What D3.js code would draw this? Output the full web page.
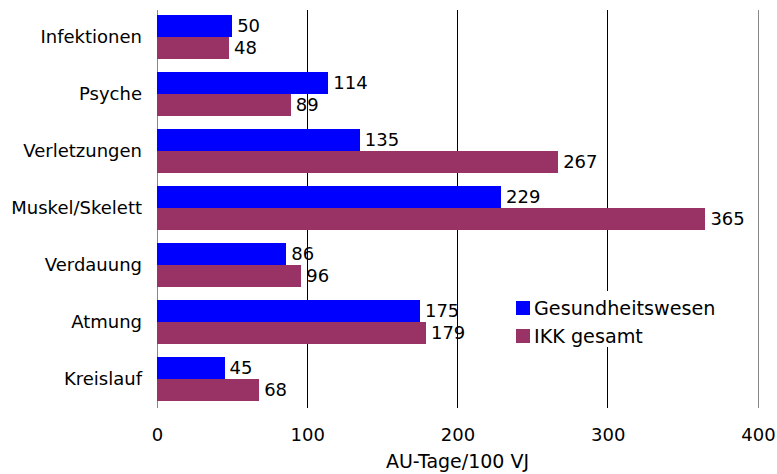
<!DOCTYPE html>
<html>
<head>
<meta charset="utf-8">
<script src="https://cdn.jsdelivr.net/npm/d3@7"></script>
<style>
  html, body { margin: 0; padding: 0; background: #fff; }
  svg text { font-family: "DejaVu Sans", sans-serif; fill: #000; }
</style>
</head>
<body>
<svg id="chart" width="777" height="474"></svg>
<script>
// Krankheitsarten: AU-Tage je 100 Versicherungsjahre
const categories = ["Infektionen", "Psyche", "Verletzungen", "Muskel/Skelett", "Verdauung", "Atmung", "Kreislauf"];
const gesundheitswesen = [50, 114, 135, 229, 86, 175, 45];
const ikkGesamt = [48, 89, 267, 365, 96, 179, 68];
const seriesNames = ["Gesundheitswesen", "IKK gesamt"];
const seriesColors = ["#0000ff", "#993366"];
const xTicks = [0, 100, 200, 300, 400];
const xTitle = "AU-Tage/100 VJ";

const svg = d3.select("#chart");
const margin = { left: 157, right: 19, top: 8.5, bottom: 66.5 };
const W = 777, H = 474;

const x = d3.scaleLinear().domain([0, 400]).range([margin.left, W - margin.right]);
const y = d3.scaleBand().domain(categories).range([margin.top, H - margin.bottom])
  .paddingInner(0.228).paddingOuter(0.114);
const sub = d3.scaleBand().domain(seriesNames).range([0, y.bandwidth()]);

const rows = categories.map((c, i) => ({ cat: c, vals: [gesundheitswesen[i], ikkGesamt[i]] }));

// vertical gridlines
const gTop = margin.top + 1.5, gBot = H - margin.bottom;
svg.append("g").selectAll("line").data(xTicks).join("line")
  .attr("x1", d => x(d)).attr("x2", d => x(d))
  .attr("y1", gTop).attr("y2", gBot)
  .attr("stroke", d => (d === 0 || d === 400) ? "#888" : "#000")
  .attr("stroke-width", 1)
  .attr("shape-rendering", "crispEdges");

// bars
const groups = svg.append("g").selectAll("g").data(rows).join("g")
  .attr("transform", d => `translate(0,${y(d.cat)})`);

groups.selectAll("rect").data(d => d.vals.map((v, k) => ({ v, k }))).join("rect")
  .attr("x", x(0))
  .attr("y", d => sub(seriesNames[d.k]))
  .attr("width", d => x(d.v) - x(0))
  .attr("height", sub.bandwidth())
  .attr("fill", d => seriesColors[d.k])
  .attr("shape-rendering", "crispEdges");

// value labels
groups.selectAll("text").data(d => d.vals.map((v, k) => ({ v, k }))).join("text")
  .attr("x", d => x(d.v) + 5)
  .attr("y", d => sub(seriesNames[d.k]) + sub.bandwidth() / 2)
  .attr("dy", "0.36em")
  .attr("font-size", 18)
  .text(d => d.v);

// category axis
const yAxis = d3.axisLeft(y).tickSize(0).tickPadding(15);
const yg = svg.append("g").attr("transform", `translate(${x(0)},0)`).call(yAxis);
yg.select(".domain").remove();
yg.selectAll("text").attr("font-size", 18).attr("font-family", "DejaVu Sans, sans-serif");

// value axis
const xAxis = d3.axisBottom(x).tickValues(xTicks).tickSize(0).tickPadding(21);
const xg = svg.append("g").attr("transform", `translate(0,${gBot})`).call(xAxis);
xg.select(".domain").remove();
xg.selectAll("text").attr("font-size", 18).attr("font-family", "DejaVu Sans, sans-serif");

svg.append("text")
  .attr("x", (x(0) + x(400)) / 2)
  .attr("y", 468)
  .attr("text-anchor", "middle")
  .attr("font-size", 19)
  .text(xTitle);

// legend
const lg = svg.append("g").attr("transform", "translate(510,291)");
lg.append("rect").attr("width", 228).attr("height", 56).attr("fill", "#fff");
const items = lg.selectAll("g").data(seriesNames).join("g")
  .attr("transform", (d, i) => `translate(6,${10 + i * 28})`);
items.append("rect").attr("width", 14).attr("height", 14)
  .attr("fill", (d, i) => seriesColors[i]);
items.append("text").attr("x", 18).attr("y", 7).attr("dy", "0.36em")
  .attr("font-size", 19.2).text(d => d);
</script>
</body>
</html>
